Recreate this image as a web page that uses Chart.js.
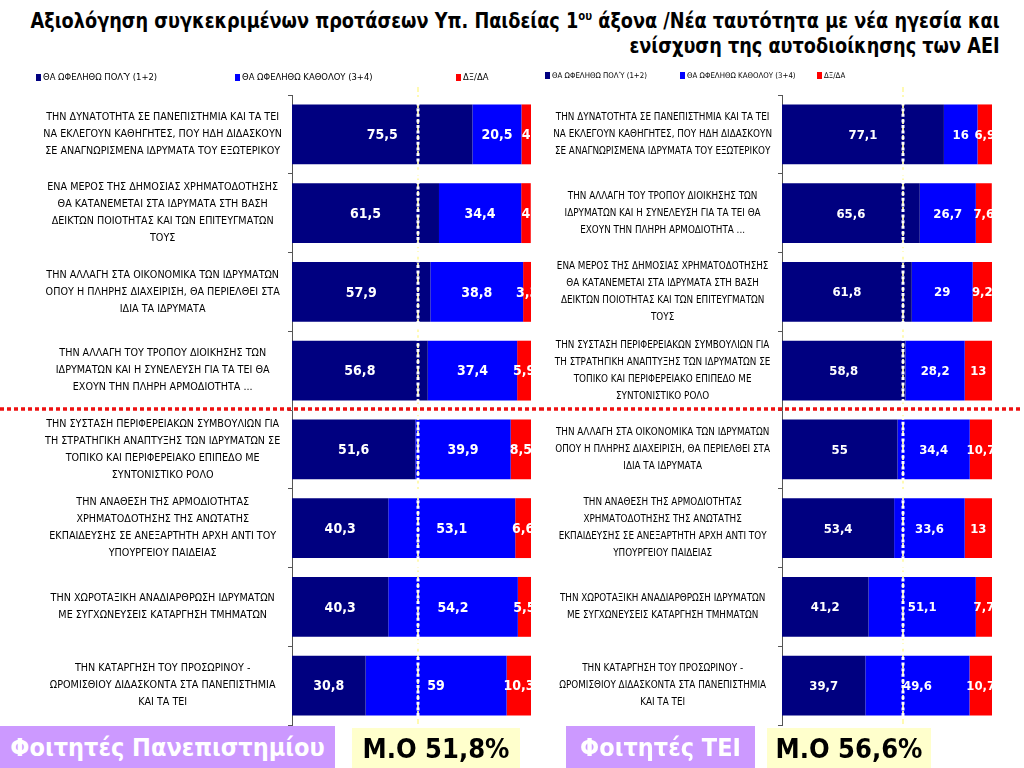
<!DOCTYPE html>
<html>
<head>
<meta charset="utf-8">
<script src="https://cdn.jsdelivr.net/npm/chart.js@4.4.1/dist/chart.umd.min.js"></script>
<style>
  html, body { margin: 0; padding: 0; background: #fff; }
  body { width: 1024px; height: 768px; position: relative; overflow: hidden;
         font-family: 'DejaVu Sans Condensed', 'Liberation Sans', sans-serif; }
  #title { position: absolute; right: 24px; top: 9px; text-align: right; color: #000; white-space: nowrap;
           font: bold 21px/25px 'DejaVu Sans Condensed', 'Liberation Sans', sans-serif; transform-origin: right top; }
  #title sup { font-size: 12px; line-height: 0; vertical-align: 8px; }
  canvas { position: absolute; top: 0; }
  #cUni { left: 0; }
  #cTei { left: 540px; }
  .lg { position: absolute; top: 71px; white-space: nowrap; color: #000; z-index: 3; }
  .lg i { display: inline-block; width: 5px; height: 7px; margin-right: 2px; vertical-align: -1px; }
  .box { position: absolute; z-index: 4; display: flex; align-items: center; justify-content: center;
         font-family: 'DejaVu Sans Condensed', 'Liberation Sans', sans-serif; font-weight: bold; white-space: nowrap; }
  .purple { background: #cc99ff; color: #fff; font-size: 25px; }
  .yellow { background: #ffffcc; color: #000; font-size: 27px; }
</style>
</head>
<body>
<div id="title">Αξιολόγηση συγκεκριμένων προτάσεων Υπ. Παιδείας 1<sup>ου</sup> άξονα /Νέα ταυτότητα με νέα ηγεσία και<br>ενίσχυση της αυτοδιοίκησης των ΑΕΙ</div>
<canvas id="cUni" width="540" height="768"></canvas>
<canvas id="cTei" width="484" height="768"></canvas>
<div id="legends"></div>
<div class="box purple" style="left:0;top:726px;width:335px;height:42px;">Φοιτητές Πανεπιστημίου</div>
<div class="box yellow" id="meanUni" style="left:352px;top:728px;width:168px;height:40px;"></div>
<div class="box purple" style="left:566px;top:726px;width:189px;height:42px;">Φοιτητές ΤΕΙ</div>
<div class="box yellow" id="meanTei" style="left:767px;top:728px;width:164px;height:40px;"></div>
<script>
// ---------------- DATA ----------------
const seriesNames = ['ΘΑ ΩΦΕΛΗΘΩ ΠΟΛΎ (1+2)', 'ΘΑ ΩΦΕΛΗΘΩ ΚΑΘΟΛΟΥ (3+4)', 'ΔΞ/ΔΑ'];
const seriesColors = ['#000080', '#0000ff', '#ff0000'];

const uniCategories = [
  ['ΤΗΝ ΔΥΝΑΤΟΤΗΤΑ ΣΕ ΠΑΝΕΠΙΣΤΗΜΙΑ ΚΑΙ ΤΑ ΤΕΙ', 'ΝΑ ΕΚΛΕΓΟΥΝ ΚΑΘΗΓΗΤΕΣ, ΠΟΥ ΗΔΗ ΔΙΔΑΣΚΟΥΝ', 'ΣΕ ΑΝΑΓΝΩΡΙΣΜΕΝΑ ΙΔΡΥΜΑΤΑ ΤΟΥ ΕΞΩΤΕΡΙΚΟΥ'],
  ['ΕΝΑ ΜΕΡΟΣ ΤΗΣ ΔΗΜΟΣΙΑΣ ΧΡΗΜΑΤΟΔΟΤΗΣΗΣ', 'ΘΑ ΚΑΤΑΝΕΜΕΤΑΙ ΣΤΑ ΙΔΡΥΜΑΤΑ ΣΤΗ ΒΑΣΗ', 'ΔΕΙΚΤΩΝ ΠΟΙΟΤΗΤΑΣ ΚΑΙ ΤΩΝ ΕΠΙΤΕΥΓΜΑΤΩΝ', 'ΤΟΥΣ'],
  ['ΤΗΝ ΑΛΛΑΓΗ ΣΤΑ ΟΙΚΟΝΟΜΙΚΑ ΤΩΝ ΙΔΡΥΜΑΤΩΝ', 'ΟΠΟΥ Η ΠΛΗΡΗΣ ΔΙΑΧΕΙΡΙΣΗ, ΘΑ ΠΕΡΙΕΛΘΕΙ ΣΤΑ', 'ΙΔΙΑ ΤΑ ΙΔΡΥΜΑΤΑ'],
  ['ΤΗΝ ΑΛΛΑΓΗ ΤΟΥ ΤΡΟΠΟΥ ΔΙΟΙΚΗΣΗΣ ΤΩΝ', 'ΙΔΡΥΜΑΤΩΝ ΚΑΙ Η ΣΥΝΕΛΕΥΣΗ ΓΙΑ ΤΑ ΤΕΙ ΘΑ', 'ΕΧΟΥΝ ΤΗΝ ΠΛΗΡΗ ΑΡΜΟΔΙΟΤΗΤΑ ...'],
  ['ΤΗΝ ΣΥΣΤΑΣΗ ΠΕΡΙΦΕΡΕΙΑΚΩΝ ΣΥΜΒΟΥΛΙΩΝ ΓΙΑ', 'ΤΗ ΣΤΡΑΤΗΓΙΚΗ ΑΝΑΠΤΥΞΗΣ ΤΩΝ ΙΔΡΥΜΑΤΩΝ ΣΕ', 'ΤΟΠΙΚΟ ΚΑΙ ΠΕΡΙΦΕΡΕΙΑΚΟ ΕΠΙΠΕΔΟ ΜΕ', 'ΣΥΝΤΟΝΙΣΤΙΚΟ ΡΟΛΟ'],
  ['ΤΗΝ ΑΝΑΘΕΣΗ ΤΗΣ ΑΡΜΟΔΙΟΤΗΤΑΣ', 'ΧΡΗΜΑΤΟΔΟΤΗΣΗΣ ΤΗΣ ΑΝΩΤΑΤΗΣ', 'ΕΚΠΑΙΔΕΥΣΗΣ ΣΕ ΑΝΕΞΑΡΤΗΤΗ ΑΡΧΗ ΑΝΤΙ ΤΟΥ', 'ΥΠΟΥΡΓΕΙΟΥ ΠΑΙΔΕΙΑΣ'],
  ['ΤΗΝ ΧΩΡΟΤΑΞΙΚΗ ΑΝΑΔΙΑΡΘΡΩΣΗ ΙΔΡΥΜΑΤΩΝ', 'ΜΕ ΣΥΓΧΩΝΕΥΣΕΙΣ ΚΑΤΑΡΓΗΣΗ ΤΜΗΜΑΤΩΝ'],
  ['ΤΗΝ ΚΑΤΑΡΓΗΣΗ ΤΟΥ ΠΡΟΣΩΡΙΝΟΥ -', 'ΩΡΟΜΙΣΘΙΟΥ ΔΙΔΑΣΚΟΝΤΑ ΣΤΑ ΠΑΝΕΠΙΣΤΗΜΙΑ', 'ΚΑΙ ΤΑ ΤΕΙ']
];
const uniMuch = [75.5, 61.5, 57.9, 56.8, 51.6, 40.3, 40.3, 30.8];
const uniNot  = [20.5, 34.4, 38.8, 37.4, 39.9, 53.1, 54.2, 59];
const uniDk   = [4, 4, 3.3, 5.9, 8.5, 6.6, 5.5, 10.3];
const uniMean = 51.8;

const teiCategories = [
  ['ΤΗΝ ΔΥΝΑΤΟΤΗΤΑ ΣΕ ΠΑΝΕΠΙΣΤΗΜΙΑ ΚΑΙ ΤΑ ΤΕΙ', 'ΝΑ ΕΚΛΕΓΟΥΝ ΚΑΘΗΓΗΤΕΣ, ΠΟΥ ΗΔΗ ΔΙΔΑΣΚΟΥΝ', 'ΣΕ ΑΝΑΓΝΩΡΙΣΜΕΝΑ ΙΔΡΥΜΑΤΑ ΤΟΥ ΕΞΩΤΕΡΙΚΟΥ'],
  ['ΤΗΝ ΑΛΛΑΓΗ ΤΟΥ ΤΡΟΠΟΥ ΔΙΟΙΚΗΣΗΣ ΤΩΝ', 'ΙΔΡΥΜΑΤΩΝ ΚΑΙ Η ΣΥΝΕΛΕΥΣΗ ΓΙΑ ΤΑ ΤΕΙ ΘΑ', 'ΕΧΟΥΝ ΤΗΝ ΠΛΗΡΗ ΑΡΜΟΔΙΟΤΗΤΑ ...'],
  ['ΕΝΑ ΜΕΡΟΣ ΤΗΣ ΔΗΜΟΣΙΑΣ ΧΡΗΜΑΤΟΔΟΤΗΣΗΣ', 'ΘΑ ΚΑΤΑΝΕΜΕΤΑΙ ΣΤΑ ΙΔΡΥΜΑΤΑ ΣΤΗ ΒΑΣΗ', 'ΔΕΙΚΤΩΝ ΠΟΙΟΤΗΤΑΣ ΚΑΙ ΤΩΝ ΕΠΙΤΕΥΓΜΑΤΩΝ', 'ΤΟΥΣ'],
  ['ΤΗΝ ΣΥΣΤΑΣΗ ΠΕΡΙΦΕΡΕΙΑΚΩΝ ΣΥΜΒΟΥΛΙΩΝ ΓΙΑ', 'ΤΗ ΣΤΡΑΤΗΓΙΚΗ ΑΝΑΠΤΥΞΗΣ ΤΩΝ ΙΔΡΥΜΑΤΩΝ ΣΕ', 'ΤΟΠΙΚΟ ΚΑΙ ΠΕΡΙΦΕΡΕΙΑΚΟ ΕΠΙΠΕΔΟ ΜΕ', 'ΣΥΝΤΟΝΙΣΤΙΚΟ ΡΟΛΟ'],
  ['ΤΗΝ ΑΛΛΑΓΗ ΣΤΑ ΟΙΚΟΝΟΜΙΚΑ ΤΩΝ ΙΔΡΥΜΑΤΩΝ', 'ΟΠΟΥ Η ΠΛΗΡΗΣ ΔΙΑΧΕΙΡΙΣΗ, ΘΑ ΠΕΡΙΕΛΘΕΙ ΣΤΑ', 'ΙΔΙΑ ΤΑ ΙΔΡΥΜΑΤΑ'],
  ['ΤΗΝ ΑΝΑΘΕΣΗ ΤΗΣ ΑΡΜΟΔΙΟΤΗΤΑΣ', 'ΧΡΗΜΑΤΟΔΟΤΗΣΗΣ ΤΗΣ ΑΝΩΤΑΤΗΣ', 'ΕΚΠΑΙΔΕΥΣΗΣ ΣΕ ΑΝΕΞΑΡΤΗΤΗ ΑΡΧΗ ΑΝΤΙ ΤΟΥ', 'ΥΠΟΥΡΓΕΙΟΥ ΠΑΙΔΕΙΑΣ'],
  ['ΤΗΝ ΧΩΡΟΤΑΞΙΚΗ ΑΝΑΔΙΑΡΘΡΩΣΗ ΙΔΡΥΜΑΤΩΝ', 'ΜΕ ΣΥΓΧΩΝΕΥΣΕΙΣ ΚΑΤΑΡΓΗΣΗ ΤΜΗΜΑΤΩΝ'],
  ['ΤΗΝ ΚΑΤΑΡΓΗΣΗ ΤΟΥ ΠΡΟΣΩΡΙΝΟΥ -', 'ΩΡΟΜΙΣΘΙΟΥ ΔΙΔΑΣΚΟΝΤΑ ΣΤΑ ΠΑΝΕΠΙΣΤΗΜΙΑ', 'ΚΑΙ ΤΑ ΤΕΙ']
];
const teiMuch = [77.1, 65.6, 61.8, 58.8, 55, 53.4, 41.2, 39.7];
const teiNot  = [16, 26.7, 29, 28.2, 34.4, 33.6, 51.1, 49.6];
const teiDk   = [6.9, 7.6, 9.2, 13, 10.7, 13, 7.7, 10.7];
const teiMean = 56.6;

// ---------------- HELPERS ----------------
const FAM = "'DejaVu Sans Condensed', 'Liberation Sans', sans-serif";
const fmt = v => String(v).replace('.', ',');

// fit title width to the reference span
(function fitTitle() {
  const t = document.getElementById('title');
  const w = t.getBoundingClientRect().width;
  if (w > 0) t.style.transform = 'scaleX(' + (969 / w) + ')';
})();

document.getElementById('meanUni').textContent = 'Μ.Ο ' + fmt(uniMean) + '%';
document.getElementById('meanTei').textContent = 'Μ.Ο ' + fmt(teiMean) + '%';

// HTML legends built from the series arrays
function buildLegend(xs, size) {
  const host = document.getElementById('legends');
  seriesNames.forEach((name, i) => {
    const d = document.createElement('div');
    d.className = 'lg';
    d.style.left = xs[i] + 'px';
    d.style.fontSize = size + 'px';
    const sq = document.createElement('i');
    sq.style.background = seriesColors[i];
    d.appendChild(sq);
    d.appendChild(document.createTextNode(name));
    host.appendChild(d);
  });
}
buildLegend([36, 235, 456], 9.4);
buildLegend([545, 680, 817], 7.8);

const valueLabels = {
  id: 'valueLabels',
  afterDatasetsDraw(chart, args, opts) {
    const { ctx, chartArea: a } = chart;
    ctx.save();
    ctx.beginPath();
    ctx.rect(a.left, a.top, a.right - a.left, a.bottom - a.top);
    ctx.clip();
    ctx.fillStyle = '#ffffff';
    ctx.font = 'bold ' + opts.size + 'px ' + FAM;
    ctx.textAlign = 'center';
    ctx.textBaseline = 'middle';
    chart.data.datasets.forEach((ds, i) => {
      chart.getDatasetMeta(i).data.forEach((el, j) => {
        const p = el.getCenterPoint();
        ctx.fillText(fmt(ds.data[j]), p.x, p.y + 1);
      });
    });
    ctx.restore();
  }
};

const meanLine = {
  id: 'meanLine',
  afterDatasetsDraw(chart, args, opts) {
    const { ctx, chartArea: a, scales } = chart;
    const x = Math.round(scales.x.getPixelForValue(opts.value)) + 2;
    ctx.save();
    ctx.strokeStyle = 'rgba(255,250,170,0.9)';
    ctx.lineWidth = 2;
    ctx.setLineDash([5, 3]);
    ctx.beginPath(); ctx.moveTo(x, a.top - 8); ctx.lineTo(x, a.bottom + 2); ctx.stroke();
    ctx.strokeStyle = '#ffffff';
    ctx.lineWidth = 3;
    ctx.setLineDash([3, 2.6]);
    ctx.beginPath(); ctx.moveTo(x, a.top + 2); ctx.lineTo(x, a.bottom - 8); ctx.stroke();
    ctx.restore();
  }
};

const splitLine = {
  id: 'splitLine',
  afterDraw(chart, args, opts) {
    const { ctx, scales } = chart;
    const y = (scales.y.getPixelForValue(3) + scales.y.getPixelForValue(4)) / 2 - 1;
    ctx.save();
    ctx.strokeStyle = '#ee1111';
    ctx.lineWidth = 3.5;
    ctx.setLineDash([4, 3]);
    ctx.beginPath(); ctx.moveTo(opts.x0, y); ctx.lineTo(opts.x1, y); ctx.stroke();
    ctx.restore();
  }
};

function makeChart(id, cats, much, not, dk, mean, cfg) {
  return new Chart(document.getElementById(id), {
    type: 'bar',
    data: {
      labels: cats,
      datasets: [
        { label: seriesNames[0], data: much, backgroundColor: seriesColors[0] },
        { label: seriesNames[1], data: not,  backgroundColor: seriesColors[1] },
        { label: seriesNames[2], data: dk,   backgroundColor: seriesColors[2] }
      ]
    },
    options: {
      indexAxis: 'y',
      responsive: false,
      animation: false,
      layout: { padding: { left: 0, right: cfg.padR, top: 95, bottom: 43 } },
      datasets: { bar: { categoryPercentage: 1, barPercentage: 0.76, borderWidth: 0 } },
      plugins: {
        legend: { display: false },
        tooltip: { enabled: false },
        valueLabels: { size: cfg.valSize },
        meanLine: { value: mean },
        splitLine: { x0: 0, x1: cfg.lineEnd }
      },
      scales: {
        x: { stacked: true, min: 0, max: 100, display: false },
        y: {
          stacked: true,
          grid: { drawOnChartArea: false, tickLength: 4, color: '#555', offset: true },
          border: { display: true, color: '#555', width: 1 },
          ticks: {
            color: '#000', autoSkip: false, crossAlign: 'center', padding: cfg.tickPad,
            font: { family: FAM, size: cfg.labSize, lineHeight: 17 / cfg.labSize }
          },
          afterFit(s) { s.width = cfg.axisW; }
        }
      }
    },
    plugins: [meanLine, valueLabels, splitLine]
  });
}

makeChart('cUni', uniCategories, uniMuch, uniNot, uniDk, uniMean,
  { padR: 9, axisW: 292, labSize: 10.7, tickPad: 6, valSize: 14, lineEnd: 540 });
makeChart('cTei', teiCategories, teiMuch, teiNot, teiDk, teiMean,
  { padR: 32, axisW: 242, labSize: 9.8, tickPad: 6, valSize: 13, lineEnd: 481 });
</script>
</body>
</html>
